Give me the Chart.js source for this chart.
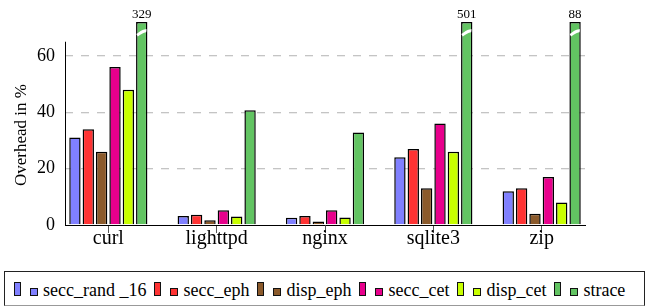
<!DOCTYPE html>
<html>
<head>
<meta charset="utf-8">
<script src="https://cdn.jsdelivr.net/npm/chart.js@4.4.1/dist/chart.umd.min.js"></script>
<style>
  body { margin: 0; background: #fff; font-family: "Liberation Serif", "DejaVu Serif", serif; }
  #wrap { position: relative; width: 657px; height: 308px; }
  #chart { position: absolute; left: 0; top: 0; }
  #legend { position: absolute; left: 4px; top: 271px; width: 641px; height: 35px; border: 1px solid #222; border-bottom-color: #999;
            display: flex; align-items: center; padding-left: 9px; box-sizing: border-box; font-size: 18px; color: #000; }
  .item { display: flex; align-items: flex-end; margin-right: 8px; }
  .bar { width: 5px; height: 12px; border: 1px solid #111; margin-right: 9px; }
  .sq { width: 6px; height: 6px; border: 1px solid #111; margin-right: 5px; }
  .lbl { line-height: 14px; position: relative; top: 1px; }
</style>
</head>
<body>
<div id="wrap">
  <canvas id="chart" width="657" height="262"></canvas>
  <div id="legend"></div>
</div>
<script>
const categories = ['curl', 'lighttpd', 'nginx', 'sqlite3', 'zip'];
const seriesNames = ['secc_rand _16', 'secc_eph', 'disp_eph', 'secc_cet', 'disp_cet', 'strace'];
const seccRand16 = [31, 3.2, 2.6, 24, 12];
const seccEph = [34, 3.6, 3.2, 27, 13];
const dispEph = [26, 1.7, 1.2, 13, 4];
const seccCet = [56, 5.2, 5.2, 36, 17];
const dispCet = [48, 3, 2.7, 26, 8];
const strace = [329, 40.7, 32.8, 501, 88];
const yTicks = [0, 20, 40, 60];
const colors = ['#8080ff', '#ff3333', '#8b5a2b', '#e8008c', '#c8ff00', '#62c462'];

const cap = 72;      // bars above this get cut
const axisTop = 65;  // y axis line stops here
const serif = '"Liberation Serif", "DejaVu Serif", serif';

Chart.defaults.font.family = serif;
Chart.defaults.color = '#000';

const allSeries = [seccRand16, seccEph, dispEph, seccCet, dispCet, strace];

const extras = {
    id: 'extras',
    afterDatasetsDraw(chart) {
        const { ctx, scales: { y }, chartArea } = chart;
        ctx.save();
        // y axis line, only up to 65
        ctx.strokeStyle = '#000';
        ctx.lineWidth = 1;
        ctx.beginPath();
        ctx.moveTo(chartArea.left + 0.5, y.getPixelForValue(0));
        ctx.lineTo(chartArea.left + 0.5, y.getPixelForValue(axisTop));
        ctx.stroke();

        // breaks + real values on cut bars
        const meta = chart.getDatasetMeta(allSeries.length - 1);
        meta.data.forEach((bar, i) => {
            const v = strace[i];
            if (v <= cap) return;
            const half = bar.width / 2 - 1;
            const yb = y.getPixelForValue(68.2);
            ctx.strokeStyle = '#fff';
            ctx.lineWidth = 3;
            ctx.beginPath();
            ctx.moveTo(bar.x - half, yb + 2.5);
            ctx.bezierCurveTo(bar.x - 2, yb + 1, bar.x + 1, yb - 2.5, bar.x + half, yb - 2);
            ctx.stroke();
            ctx.fillStyle = '#000';
            ctx.font = '13px ' + serif;
            ctx.textAlign = 'center';
            ctx.textBaseline = 'alphabetic';
            ctx.fillText(String(v), bar.x, bar.y - 4);
        });

        // y title
        ctx.translate(22, 135);
        ctx.rotate(-Math.PI / 2);
        ctx.font = '17px ' + serif;
        ctx.textAlign = 'center';
        ctx.textBaseline = 'middle';
        ctx.fillStyle = '#000';
        ctx.fillText('Overhead in %', 0, 0);
        ctx.restore();
    }
};

new Chart(document.getElementById('chart'), {
    type: 'bar',
    data: {
        labels: categories,
        datasets: allSeries.map((s, k) => ({
            label: seriesNames[k],
            data: s.map(v => Math.min(v, cap)),
            backgroundColor: colors[k],
            borderColor: '#000',
            borderWidth: { top: 1.5, left: 1.5, right: 1.5, bottom: 0 },
            borderSkipped: false,
            categoryPercentage: 0.74,
            barPercentage: 0.85,
            clip: 3
        }))
    },
    options: {
        responsive: false,
        animation: false,
        layout: { padding: { top: 22, right: 72, bottom: 7, left: 0 } },
        plugins: { legend: { display: false }, tooltip: { enabled: false } },
        scales: {
            x: {
                afterFit: s => { s.height = 30; },
                afterBuildTicks: s => { s._startValue = -0.4; s._valueRange = categories.length - 1 + 0.8; },
                border: { display: true, color: '#000', width: 1 },
                grid: { offset: false, drawOnChartArea: false, tickLength: 8, color: '#555' },
                ticks: { font: { size: 20 }, padding: -6, color: '#000' }
            },
            y: {
                min: 0,
                max: cap,
                afterFit: s => { s.width = 65; },
                afterBuildTicks: s => { s.ticks = yTicks.map(v => ({ value: v })); },
                grid: {
                    drawTicks: false,
                    color: c => c.tick.value === 0 ? 'rgba(0,0,0,0)' : '#c4c4c4',
                    lineWidth: 1.3
                },
                border: { display: false, dash: [8, 8] },
                ticks: { font: { size: 18 }, padding: 10, color: '#000' }
            }
        }
    },
    plugins: [extras]
});

document.getElementById('legend').innerHTML = seriesNames.map((n, k) => `
    <div class="item">
        <span class="bar" style="background:${colors[k]}"></span>
        <span class="sq" style="background:${colors[k]}"></span>
        <span class="lbl">${n}</span>
    </div>`).join('');
</script>
</body>
</html>
